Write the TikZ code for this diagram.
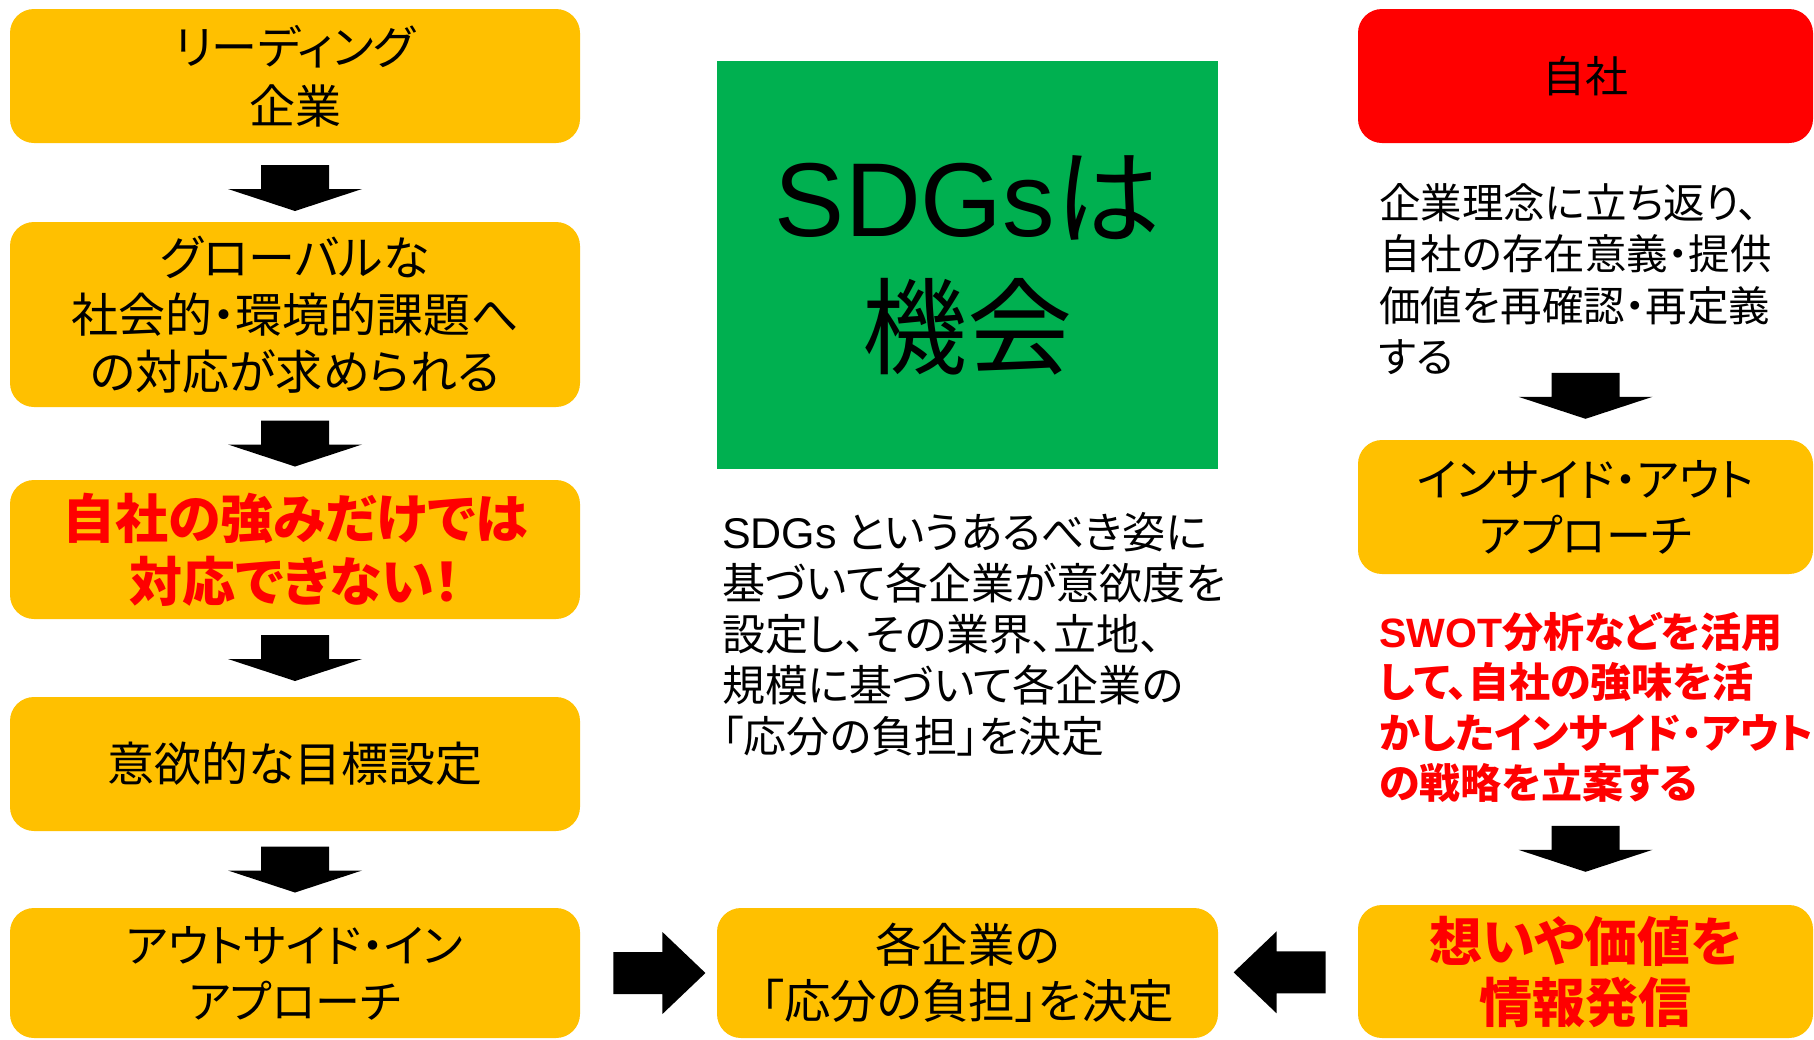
\documentclass[tikz,border=0pt]{standalone}
\usepackage{fontspec}
\setmainfont{Noto Sans CJK JP}[RawFeature=+palt]
\newfontfamily\lat{Liberation Sans}
\usetikzlibrary{calc}
\definecolor{boxorange}{HTML}{FFC000}
\definecolor{boxred}{HTML}{FF0000}
\definecolor{boxgreen}{HTML}{00B050}
\newcommand{\fsz}[2]{\fontsize{#1}{#2}\selectfont}
\begin{document}
\begin{tikzpicture}[x=1pt,y=-1pt,
  ybox/.style={fill=boxorange, rounded corners=24pt, inner sep=0pt, align=center, text=black},
  rbox/.style={fill=boxred, rounded corners=24pt, inner sep=0pt, align=center, text=black},
  gbox/.style={fill=boxgreen, inner sep=0pt, align=center, text=black},
  lcol/.style={minimum width=570pt},
  rcol/.style={minimum width=455pt},
  mcol/.style={minimum width=501pt},
  redtxt/.style={text=boxred},
  plain/.style={inner sep=0pt, align=left, anchor=west},
  downarr/.pic={\fill[black] (-34,-23) -- (34,-23) -- (34,1) -- (67,1) -- (0,23) -- (-67,1) -- (-34,1) -- cycle;},
  rightarr/.pic={\fill[black] (-46,-21) -- (3,-21) -- (3,-41) -- (46,0) -- (3,41) -- (3,21) -- (-46,21) -- cycle;},
  leftarr/.pic={\fill[black] (46,-21) -- (-3,-21) -- (-3,-41) -- (-46,0) -- (-3,41) -- (-3,21) -- (46,21) -- cycle;}
]
\useasboundingbox (0,0) rectangle (1814,1039);

% left column
\node[ybox, lcol, minimum height=134pt, font=\fsz{46}{59}] (l1) at (295,76) {リーディング\\企業};
\node[ybox, lcol, minimum height=185pt, font=\fsz{47}{57}] (l2) at (295,314.5) {グローバルな\\社会的・環境的課題へ\\の対応が求められる};
\node[ybox, lcol, minimum height=139pt, font=\fsz{53}{63}\bfseries, redtxt] (l3) at (295,549.5) {自社の強みだけでは\\対応できない！};
\node[ybox, lcol, minimum height=134pt, font=\fsz{47}{56}] (l4) at (295,764) {意欲的な目標設定};
\node[ybox, lcol, minimum height=130pt, font=\fsz{45}{56}] (l5) at (295,973) {アウトサイド・イン\\アプローチ};

% middle column
\node[gbox, mcol, minimum height=408pt, font=\fsz{105}{130}] (g) at (967.5,265) {{\lat SDGs}は\\機会};
\node[plain, font=\fsz{43}{51}] (mt) at (722,634.5) {{\lat SDGs} というあるべき姿に\\基づいて各企業が意欲度を\\設定し、その業界、立地、\\規模に基づいて各企業の\\「応分の負担」を決定};
\node[ybox, mcol, minimum height=130pt, font=\fsz{46.5}{56}] (mb) at (967.5,973) {各企業の\\「応分の負担」を決定};

% right column
\node[rbox, rcol, minimum height=134pt, font=\fsz{43}{50}] (r1) at (1585.5,76) {自社};
\node[plain, font=\fsz{41.5}{51.5}] (rt) at (1379,279) {企業理念に立ち返り、\\自社の存在意義・提供\\価値を再確認・再定義\\する};
\node[ybox, rcol, minimum height=134pt, font=\fsz{45}{56}] (r2) at (1585.5,507) {インサイド・アウト\\アプローチ};
\node[plain, font=\fsz{41}{50.5}\bfseries, redtxt] (rr) at (1379,707.5) {{\lat\bfseries SWOT}分析などを活用\\して、自社の強味を活\\かしたインサイド・アウト\\の戦略を立案する};
\node[ybox, rcol, minimum height=133pt, font=\fsz{53}{61}\bfseries, redtxt] (r3) at (1585.5,971.5) {想いや価値を\\情報発信};

% arrows
\pic at ($(l1.south)!0.57!(l2.north)$) {downarr};
\pic at ($(l2.south)!0.5!(l3.north)$) {downarr};
\pic at ($(l3.south)!0.5!(l4.north)$) {downarr};
\pic at ($(l4.south)!0.5!(l5.north)$) {downarr};
\pic at ($(r2.north)+(0,-44)$) {downarr};
\pic at ($(r3.north)+(0,-56)$) {downarr};
\pic at ($(l5.east)!0.58!(mb.west)$) {rightarr};
\pic at ($(mb.east)!0.44!(r3.west)$) {leftarr};
\end{tikzpicture}
\end{document}
